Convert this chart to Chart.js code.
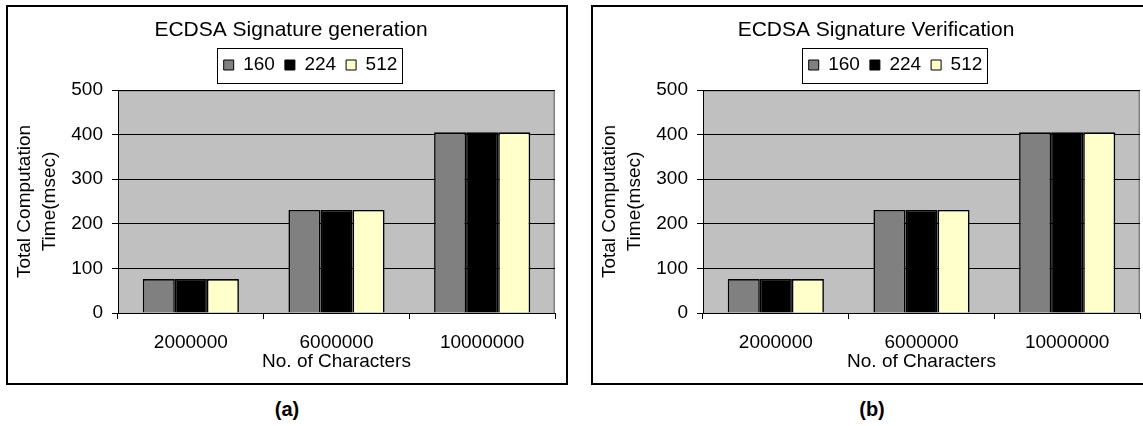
<!DOCTYPE html>
<html><head><meta charset="utf-8">
<script src="https://cdn.jsdelivr.net/npm/chart.js@4.4.0/dist/chart.umd.min.js"></script>
<style>
html,body{margin:0;padding:0;background:#fff;}
body{width:1143px;height:426px;overflow:hidden;position:relative;font-family:"Liberation Sans",Arial,sans-serif;}
.box{position:absolute;top:5px;width:558px;height:376px;border:2px solid #000;background:#fff;}
#boxA{left:6px}
#boxB{left:591px}
.box canvas{display:block;}
.cap{position:absolute;top:398px;width:100px;text-align:center;line-height:23px;font:bold 20px "Liberation Sans",Arial,sans-serif;color:#000;}
#capA{left:237px}
#capB{left:822px}
</style>
</head><body>
<div class="box" id="boxA"><canvas id="chartA" width="558" height="376"></canvas></div>
<div class="box" id="boxB"><canvas id="chartB" width="558" height="376"></canvas></div>
<div class="cap" id="capA">(a)</div>
<div class="cap" id="capB">(b)</div>
<script>
// ---- data ----
const categories = ['2000000', '6000000', '10000000'];
const seriesNames = ['160', '224', '512'];
const genKey160 = [76, 231, 405];
const genKey224 = [76, 231, 405];
const genKey512 = [76, 231, 405];
const verKey160 = [76, 231, 405];
const verKey224 = [76, 231, 405];
const verKey512 = [76, 231, 405];
const yTicks = [0, 100, 200, 300, 400, 500];

const FONT = '"Liberation Sans", Arial, sans-serif';
const seriesColors = ['#808080', '#000000', '#FFFFCC'];

const framePlugin = {
  id: 'framePlugin',
  afterLayout(chart) {
    const lg = chart.legend, tb = chart.titleBlock;
    if (lg) { lg.left += 29; lg.right += 29; lg.top -= 5.5; lg.bottom -= 5.5; }
    if (tb) { tb.left += 9.5; tb.right += 9.5; }
  },
  beforeDraw(chart) {
    const {ctx, chartArea: a} = chart;
    ctx.save();
    ctx.fillStyle = '#C0C0C0';
    ctx.fillRect(a.left, a.top, a.right - a.left, a.bottom - a.top);
    ctx.strokeStyle = '#808080';
    ctx.lineWidth = 1.5;
    ctx.beginPath();
    ctx.moveTo(a.left, a.top + 0.75);
    ctx.lineTo(a.right - 0.75, a.top + 0.75);
    ctx.lineTo(a.right - 0.75, a.bottom);
    ctx.stroke();
    ctx.restore();
  },
  afterDraw(chart) {
    const lg = chart.legend;
    if (!lg || !lg.legendHitBoxes || !lg.legendHitBoxes.length) return;
    const hb = lg.legendHitBoxes;
    let l = Infinity, r = -Infinity, t = Infinity, b = -Infinity;
    hb.forEach(h => { l = Math.min(l, h.left); r = Math.max(r, h.left + h.width); t = Math.min(t, h.top); b = Math.max(b, h.top + h.height); });
    const ctx = chart.ctx;
    ctx.save();
    ctx.strokeStyle = '#000';
    ctx.lineWidth = 1;
    const x0 = Math.round(l - 7) + 0.5, y0 = Math.round(t - 7.5) + 0.5;
    const x1 = Math.round(r + 5) + 0.5, y1 = Math.round(b + 8.5) + 0.5;
    ctx.strokeRect(x0, y0, x1 - x0, y1 - y0);
    ctx.restore();
  }
};

function makeChart(id, titleText, d160, d224, d512) {
  const vals = [d160, d224, d512];
  return new Chart(document.getElementById(id), {
    type: 'bar',
    data: {
      labels: categories,
      datasets: seriesNames.map((n, i) => ({
        label: n,
        data: vals[i],
        backgroundColor: seriesColors[i],
        borderColor: '#000',
        borderWidth: 1.6,
        barPercentage: 1.0,
        categoryPercentage: 0.66
      }))
    },
    options: {
      responsive: false,
      devicePixelRatio: 1,
      animation: false,
      layout: { padding: { left: 0, right: 11, top: 0, bottom: 0 } },
      plugins: {
        title: {
          display: true, text: titleText, color: '#000',
          font: { family: FONT, size: 21, weight: 'normal', lineHeight: 1.2 },
          padding: { top: 10.4, bottom: 8.4 }
        },
        legend: {
          display: true, position: 'top',
          labels: {
            color: '#000', font: { family: FONT, size: 19 },
            boxWidth: 10, boxHeight: 10, padding: 10,
            generateLabels(chart) {
              return chart.data.datasets.map((ds, i) => ({
                text: ds.label, fillStyle: ds.backgroundColor, strokeStyle: '#000',
                lineWidth: 1, hidden: false, datasetIndex: i, fontColor: '#000'
              }));
            }
          }
        },
        tooltip: { enabled: false }
      },
      scales: {
        x: {
          offset: true,
          grid: { display: true, offset: true, drawOnChartArea: false, drawTicks: true, tickLength: 6, color: '#000', lineWidth: 1 },
          border: { display: true, color: '#000', width: 1 },
          ticks: { color: '#000', font: { family: FONT, size: 19 }, padding: 12.5, maxRotation: 0 },
          title: { display: true, text: 'No. of Characters', color: '#000', font: { family: FONT, size: 19 }, padding: { top: 0, bottom: 9.5 } },
          afterFit(s) { s.height = 70; }
        },
        y: {
          min: 0, max: 500,
          afterBuildTicks(s) { s.ticks = yTicks.map(v => ({ value: v })); },
          grid: { color: '#000', lineWidth: 1, drawTicks: true, tickLength: 6 },
          border: { display: true, color: '#000', width: 1 },
          ticks: { color: '#000', font: { family: FONT, size: 19 }, padding: 9 },
          title: { display: true, text: ['Total Computation', 'Time(msec)'], color: '#000', font: { family: FONT, size: 19, lineHeight: 1.3 }, padding: { top: 4.6, bottom: 0 } },
          afterFit(s) { s.width = 110; }
        }
      }
    },
    plugins: [framePlugin]
  });
}

makeChart('chartA', 'ECDSA Signature generation', genKey160, genKey224, genKey512);
makeChart('chartB', 'ECDSA Signature Verification', verKey160, verKey224, verKey512);
</script>
</body></html>
